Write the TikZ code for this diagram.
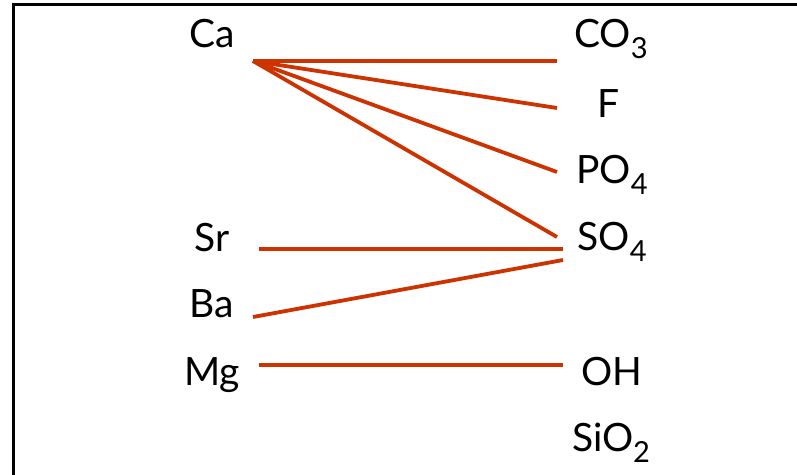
\documentclass[tikz,border=0pt]{standalone}
\usepackage{fontspec}
\setmainfont{Lato}
\definecolor{linkred}{RGB}{204,51,0}
\newcommand\chsub[1]{\raisebox{-11pt}{\fontsize{29}{29}\selectfont #1}}
\begin{document}
\begin{tikzpicture}[x=1pt,y=-1pt,
  lbl/.style={anchor=base,inner sep=0pt,font=\fontsize{39}{39}\selectfont},
  link/.style={draw=linkred,line width=3.8pt}]
\useasboundingbox (0,0) rectangle (797,474);
\clip (0,0) rectangle (797,474);
\fill[white] (0,0) rectangle (797,474);
\draw[line width=3pt] (13.5,4.5) rectangle (840,520);
% left labels
\node[lbl] (ca) at (212,47) {Ca};
\node[lbl] (sr) at (212,251) {Sr};
\node[lbl] (ba) at (212,317) {Ba};
\node[lbl] (mg) at (212,385) {Mg};
% right labels
\node[lbl] (co3) at (611,47) {CO\chsub{3}};
\node[lbl] (f) at (609,117) {F};
\node[lbl] (po4) at (612,183) {PO\chsub{4}};
\node[lbl] (so4) at (612,250) {SO\chsub{4}};
\node[lbl] (oh) at (612,385) {OH};
\node[lbl] (sio2) at (611,451) {SiO\chsub{2}};
% connector end points
\coordinate (caR) at (253,61);
\coordinate (co3L) at (557,61);
\coordinate (fL) at (557,108);
\coordinate (po4L) at (557,172);
\coordinate (so4La) at (557,237);
\coordinate (srR) at (259,249);
\coordinate (so4Lb) at (563,249);
\coordinate (baR) at (253,317);
\coordinate (so4Lc) at (563,260);
\coordinate (mgR) at (259,365);
\coordinate (ohL) at (563,365);
% connectors
\draw[link] (caR) -- (co3L);
\draw[link] (caR) -- (fL);
\draw[link] (caR) -- (po4L);
\draw[link] (caR) -- (so4La);
\draw[link] (srR) -- (so4Lb);
\draw[link] (baR) -- (so4Lc);
\draw[link] (mgR) -- (ohL);
\end{tikzpicture}
\end{document}
